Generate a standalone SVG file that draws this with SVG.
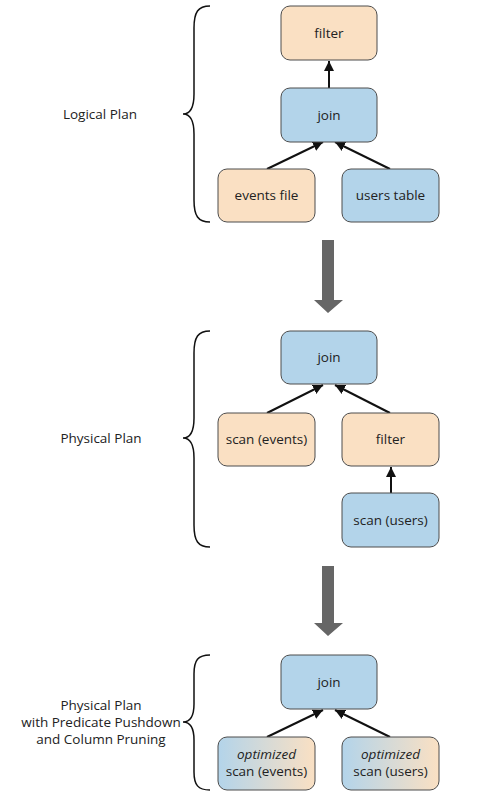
<svg xmlns="http://www.w3.org/2000/svg" width="480" height="800" viewBox="0 0 480 800">
<style>
.n rect{stroke:#4d4d4d;stroke-width:1}
.o{fill:#fae0c3}
.b{fill:#b3d4ea}
.g{fill:url(#grad)}
text{font-family:"Open Sans","Noto Sans",sans-serif;font-size:13.5px;fill:#222;text-anchor:middle}
.lab{font-size:13.5px}
.brace{fill:none;stroke:#111;stroke-width:1.5}
.c line{stroke:#111;stroke-width:2;marker-end:url(#ah)}
.big{fill:#666}
</style>
<defs>
<linearGradient id="grad" x1="0" y1="0" x2="1" y2="0">
<stop offset="0" stop-color="#b3d4ea"/>
<stop offset="1" stop-color="#fae0c3"/>
</linearGradient>
<marker id="ah" viewBox="0 0 10 10" refX="10" refY="5" markerWidth="5" markerHeight="5" orient="auto" markerUnits="strokeWidth">
<path d="M0,0 L10,5 L0,10 z" fill="#111"/>
</marker>
</defs>

<g id="labels">
<text class="lab" x="100" y="119">Logical Plan</text>
<text class="lab" x="101" y="443">Physical Plan</text>
<text class="lab" x="101" y="710">Physical Plan</text>
<text class="lab" x="101" y="727">with Predicate Pushdown</text>
<text class="lab" x="101" y="744">and Column Pruning</text>
</g>

<g id="braces">
<path class="brace" d="M210,6 C198,6 194,12 194,28 L194,94 C194,108 190,114 183,114 C190,114 194,120 194,134 L194,200 C194,216 198,222 210,222"/>
<path class="brace" d="M210,331 C198,331 194,337 194,353 L194,418 C194,432 190,438 183,438 C190,438 194,444 194,458 L194,525 C194,541 198,547 210,547"/>
<path class="brace" d="M210,655 C198,655 194,660 194,674 L194,704 C194,716 190,722 183,722 C190,722 194,728 194,740 L194,772 C194,785 198,790 210,790"/>
</g>

<g id="big-arrows">
<path class="big" d="M322,240 H334 V300 H343 L328,313 L314,300 H322 Z"/>
<path class="big" d="M322,566 H334 V623 H343 L328,636 L314,623 H322 Z"/>
</g>

<g id="connectors" class="c">
<line x1="329" y1="88" x2="329" y2="61"/>
<line x1="267" y1="169" x2="323" y2="142"/>
<line x1="390" y1="169" x2="335" y2="142"/>
<line x1="267" y1="413" x2="323" y2="385"/>
<line x1="390" y1="413" x2="335" y2="385"/>
<line x1="391" y1="493" x2="391" y2="467"/>
<line x1="267" y1="737" x2="323" y2="710"/>
<line x1="390" y1="737" x2="335" y2="710"/>
</g>

<g id="l-filter" class="n"><rect class="o" x="281" y="6" width="96" height="54" rx="9"/><text x="329" y="38">filter</text></g>
<g id="l-join" class="n"><rect class="b" x="281" y="88" width="96" height="54" rx="9"/><text x="329" y="120">join</text></g>
<g id="l-events" class="n"><rect class="o" x="218" y="169" width="97" height="53" rx="9"/><text x="266.5" y="200">events file</text></g>
<g id="l-users" class="n"><rect class="b" x="342" y="169" width="97" height="53" rx="9"/><text x="390.5" y="200">users table</text></g>

<g id="p-join" class="n"><rect class="b" x="281" y="331" width="96" height="53" rx="9"/><text x="329" y="362">join</text></g>
<g id="p-scan-events" class="n"><rect class="o" x="218" y="413" width="97" height="53" rx="9"/><text x="266.5" y="444">scan (events)</text></g>
<g id="p-filter" class="n"><rect class="o" x="342" y="413" width="97" height="53" rx="9"/><text x="390.5" y="444">filter</text></g>
<g id="p-scan-users" class="n"><rect class="b" x="342" y="493" width="97" height="54" rx="9"/><text x="390.5" y="525">scan (users)</text></g>

<g id="o-join" class="n"><rect class="b" x="281" y="655" width="96" height="54" rx="9"/><text x="329" y="687">join</text></g>
<g id="o-scan-events" class="n"><rect class="g" x="218" y="737" width="97" height="53" rx="9"/><text x="266.5" y="759"><tspan font-style="italic">optimized</tspan><tspan x="266.5" dy="17">scan (events)</tspan></text></g>
<g id="o-scan-users" class="n"><rect class="g" x="342" y="737" width="97" height="53" rx="9"/><text x="390.5" y="759"><tspan font-style="italic">optimized</tspan><tspan x="390.5" dy="17">scan (users)</tspan></text></g>
</svg>
